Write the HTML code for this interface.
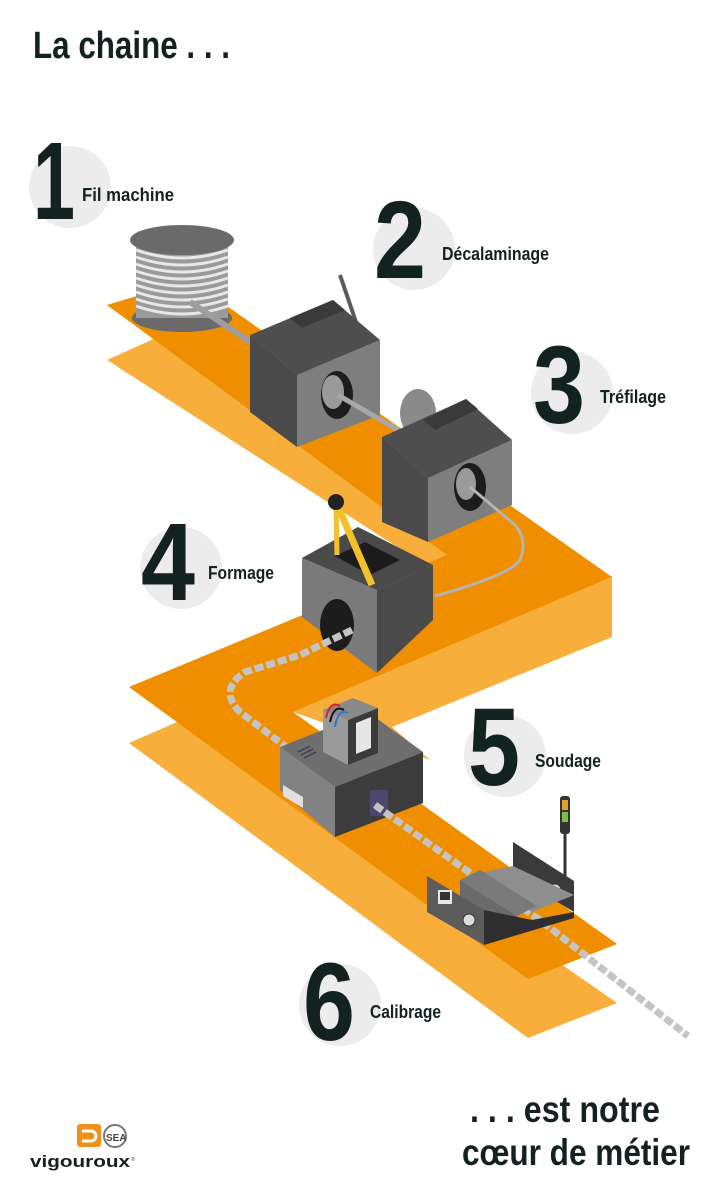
<!DOCTYPE html>
<html><head><meta charset="utf-8"><style>
html,body{margin:0;padding:0;background:#fff;}
svg{display:block;}
.n{font-family:"Liberation Sans Narrow","Liberation Sans",sans-serif;font-weight:bold;fill:#122220;}
</style></head><body>
<svg width="717" height="1200" viewBox="0 0 717 1200" xmlns="http://www.w3.org/2000/svg">
<rect width="717" height="1200" fill="#fff"/>
<text class="n" x="33" y="58" font-size="38" textLength="197" lengthAdjust="spacingAndGlyphs">La chaine . . .</text>

<g fill="#ececec">
<circle cx="70" cy="187" r="41"/><circle cx="414" cy="249" r="41"/><circle cx="572" cy="393" r="41"/>
<circle cx="181" cy="568" r="41"/><circle cx="505" cy="756" r="41"/><circle cx="340" cy="1005" r="41"/>
</g>
<g class="n" font-size="110">
<text x="33" y="219" textLength="42" lengthAdjust="spacingAndGlyphs">1</text>
<text x="374" y="278" textLength="52" lengthAdjust="spacingAndGlyphs">2</text>
<text x="533" y="423" textLength="52" lengthAdjust="spacingAndGlyphs">3</text>
<text x="141" y="600" textLength="54" lengthAdjust="spacingAndGlyphs">4</text>
<text x="468" y="785" textLength="52" lengthAdjust="spacingAndGlyphs">5</text>
<text x="303" y="1040" textLength="52" lengthAdjust="spacingAndGlyphs">6</text>
</g>
<g class="n" font-size="18">
<text x="82" y="201" textLength="92" lengthAdjust="spacingAndGlyphs">Fil machine</text>
<text x="442" y="260" textLength="107" lengthAdjust="spacingAndGlyphs">Décalaminage</text>
<text x="600" y="403" textLength="66" lengthAdjust="spacingAndGlyphs">Tréfilage</text>
<text x="208" y="579" textLength="66" lengthAdjust="spacingAndGlyphs">Formage</text>
<text x="535" y="767" textLength="66" lengthAdjust="spacingAndGlyphs">Soudage</text>
<text x="370" y="1018" textLength="71" lengthAdjust="spacingAndGlyphs">Calibrage</text>
</g>

<g fill="#f8ae3b">
<polygon points="107,360 200,318 450,555 430,568"/>
<polygon points="612,577 612,637 392,727 430,760 293,712"/>
<polygon points="129,743 200,712 617,1003 528,1038"/>
</g>
<polygon fill="#ef8f00" points="107,305 190,280 612,577 293,712 617,944 528,979 129,687 447,555"/>

<!-- spool -->
<ellipse cx="182" cy="318" rx="50" ry="14" fill="#6a6a6a"/>
<rect x="136" y="242" width="92" height="76" fill="#9a9a9a"/>
<g stroke="#e8e8e8" stroke-width="3" fill="none">
<path d="M136 250 Q182 266 228 250"/><path d="M136 257 Q182 273 228 257"/><path d="M136 264 Q182 280 228 264"/>
<path d="M136 271 Q182 287 228 271"/><path d="M136 278 Q182 294 228 278"/><path d="M136 285 Q182 301 228 285"/>
<path d="M136 292 Q182 308 228 292"/><path d="M136 299 Q182 315 228 299"/><path d="M136 306 Q182 322 228 306"/>
</g>
<ellipse cx="182" cy="240" rx="52" ry="15" fill="#6a6a6a"/>
<line x1="190" y1="302" x2="255" y2="345" stroke="#9e9e9e" stroke-width="6"/>

<!-- machine 2 -->
<line x1="340" y1="275" x2="356" y2="322" stroke="#5a5a5a" stroke-width="4"/>
<polygon points="250,335 297,375 297,447 250,412" fill="#4a4a4a"/>
<polygon points="297,375 380,340 380,415 297,447" fill="#7e7e7e"/>
<polygon points="250,335 333,300 380,340 297,375" fill="#4e4e4e"/>
<polygon points="290,318 333,300 345,310 302,328" fill="#3a3a3a"/>
<ellipse cx="337" cy="395" rx="16" ry="24" fill="#1c1c1c"/>
<ellipse cx="333" cy="392" rx="11" ry="17" fill="#9a9a9a"/>
<line x1="338" y1="395" x2="398" y2="430" stroke="#a8a8a8" stroke-width="5"/>

<!-- machine 3 -->
<ellipse cx="418" cy="413" rx="18" ry="24" fill="#8a8a8a"/>
<polygon points="382,437 428,478 428,542 382,522" fill="#4a4a4a"/>
<polygon points="428,478 512,440 512,505 428,542" fill="#7e7e7e"/>
<polygon points="382,437 466,399 512,440 428,478" fill="#4e4e4e"/>
<polygon points="423,420 466,399 478,409 435,430" fill="#3a3a3a"/>
<ellipse cx="470" cy="487" rx="16" ry="24" fill="#1c1c1c"/>
<ellipse cx="466" cy="484" rx="10" ry="16" fill="#9a9a9a"/>
<path d="M470 487 L515 525 Q528 540 520 560 Q510 575 435 596" stroke="#b4b4b4" stroke-width="3" fill="none"/>

<!-- machine 4 -->
<polygon points="302,558 377,590 377,673 302,617" fill="#7a7a7a"/>
<polygon points="377,590 433,565 433,620 377,673" fill="#4a4a4a"/>
<polygon points="302,558 358,527 433,565 377,590" fill="#4a4a4a"/>
<polygon points="335,556 365,542 400,560 370,575" fill="#1c1c1c"/>
<line x1="336" y1="502" x2="372" y2="585" stroke="#f2c12e" stroke-width="7"/>
<line x1="336" y1="502" x2="337" y2="555" stroke="#f2c12e" stroke-width="5"/>
<circle cx="336" cy="502" r="8" fill="#222"/>
<ellipse cx="337" cy="625" rx="17" ry="26" fill="#1c1c1c"/>

<path d="M352 630 L300 655 L245 672 Q218 690 240 712 L290 750" stroke="#c4c4c4" stroke-width="7" fill="none" stroke-dasharray="9 3"/>

<!-- machine 5 -->
<polygon points="280,747 368,712 423,752 335,787" fill="#6e6e6e"/>
<polygon points="280,747 335,787 335,837 280,790" fill="#828282"/>
<polygon points="335,787 423,752 423,803 335,837" fill="#3c3c3c"/>
<rect x="370" y="790" width="18" height="26" fill="#4c4670"/>
<g stroke="#3c3c5a" stroke-width="1.5"><line x1="298" y1="752" x2="310" y2="746"/><line x1="301" y1="755" x2="313" y2="749"/><line x1="304" y1="758" x2="316" y2="752"/></g>
<polygon points="283,785 303,797 303,808 283,796" fill="#e0e0e0"/>
<polygon points="323,710 348,720 348,765 323,752" fill="#9a9a9a"/>
<polygon points="348,720 378,708 378,753 348,765" fill="#3a3a3a"/>
<polygon points="323,710 353,698 378,708 348,720" fill="#8a8a8a"/>
<polygon points="356,723 371,717 371,748 356,754" fill="#e6e6e6"/>
<path d="M326 718 Q330 700 340 706" stroke="#d22" stroke-width="2" fill="none"/>
<path d="M330 722 Q334 704 344 710" stroke="#111" stroke-width="2" fill="none"/>
<path d="M335 727 Q338 708 348 713" stroke="#2a7ad0" stroke-width="2" fill="none"/>

<path d="M375 805 L470 873 L540 920 L688 1036" stroke="#c4c4c4" stroke-width="7" fill="none" stroke-dasharray="9 3"/>

<!-- machine 6 -->
<line x1="565" y1="820" x2="565" y2="882" stroke="#333" stroke-width="3"/>
<rect x="560" y="796" width="10" height="38" rx="3" fill="#333"/>
<rect x="562" y="800" width="6" height="10" fill="#e0a030"/>
<rect x="562" y="812" width="6" height="10" fill="#7bc043"/>
<polygon points="513,842 574,881 574,912 513,875" fill="#3a3a3a"/>
<circle cx="555" cy="890" r="6" fill="#ddd" stroke="#333"/>
<polygon points="470,875 532,912 574,895 513,866" fill="#8e8e8e"/>
<polygon points="460,880 480,870 537,906 517,916" fill="#7a7a7a"/>
<polygon points="460,880 517,916 517,935 460,900" fill="#6a6a6a"/>
<polygon points="427,876 484,910 484,945 427,912" fill="#5c5c5c"/>
<rect x="438" y="890" width="14" height="14" fill="#e8e8e8"/>
<rect x="440" y="892" width="10" height="8" fill="#333"/>
<circle cx="469" cy="920" r="6" fill="#ddd" stroke="#333"/>
<polygon points="484,910 532,920 574,912 574,918 484,945" fill="#2e2e2e"/>

<!-- logo -->
<rect x="77" y="1124" width="24" height="23" rx="3" fill="#f0901a"/>
<path d="M82 1131 h9 a5 5 0 0 1 0 10 h-9" stroke="#fff" stroke-width="3" fill="none"/>
<circle cx="115" cy="1136" r="11" fill="none" stroke="#777" stroke-width="2"/>
<text x="106" y="1141" font-family="Liberation Sans" font-weight="bold" font-size="10" fill="#444">SEA</text>
<text class="n" x="30" y="1167" font-size="17" textLength="100" lengthAdjust="spacingAndGlyphs">vigouroux</text>
<text x="131" y="1161" font-family="Liberation Sans" font-size="5" fill="#444">®</text>

<text class="n" x="470" y="1122" font-size="37" textLength="190" lengthAdjust="spacingAndGlyphs">. . . est notre</text>
<text class="n" x="462" y="1165" font-size="37" textLength="228" lengthAdjust="spacingAndGlyphs">cœur de métier</text>
</svg>
</body></html>
